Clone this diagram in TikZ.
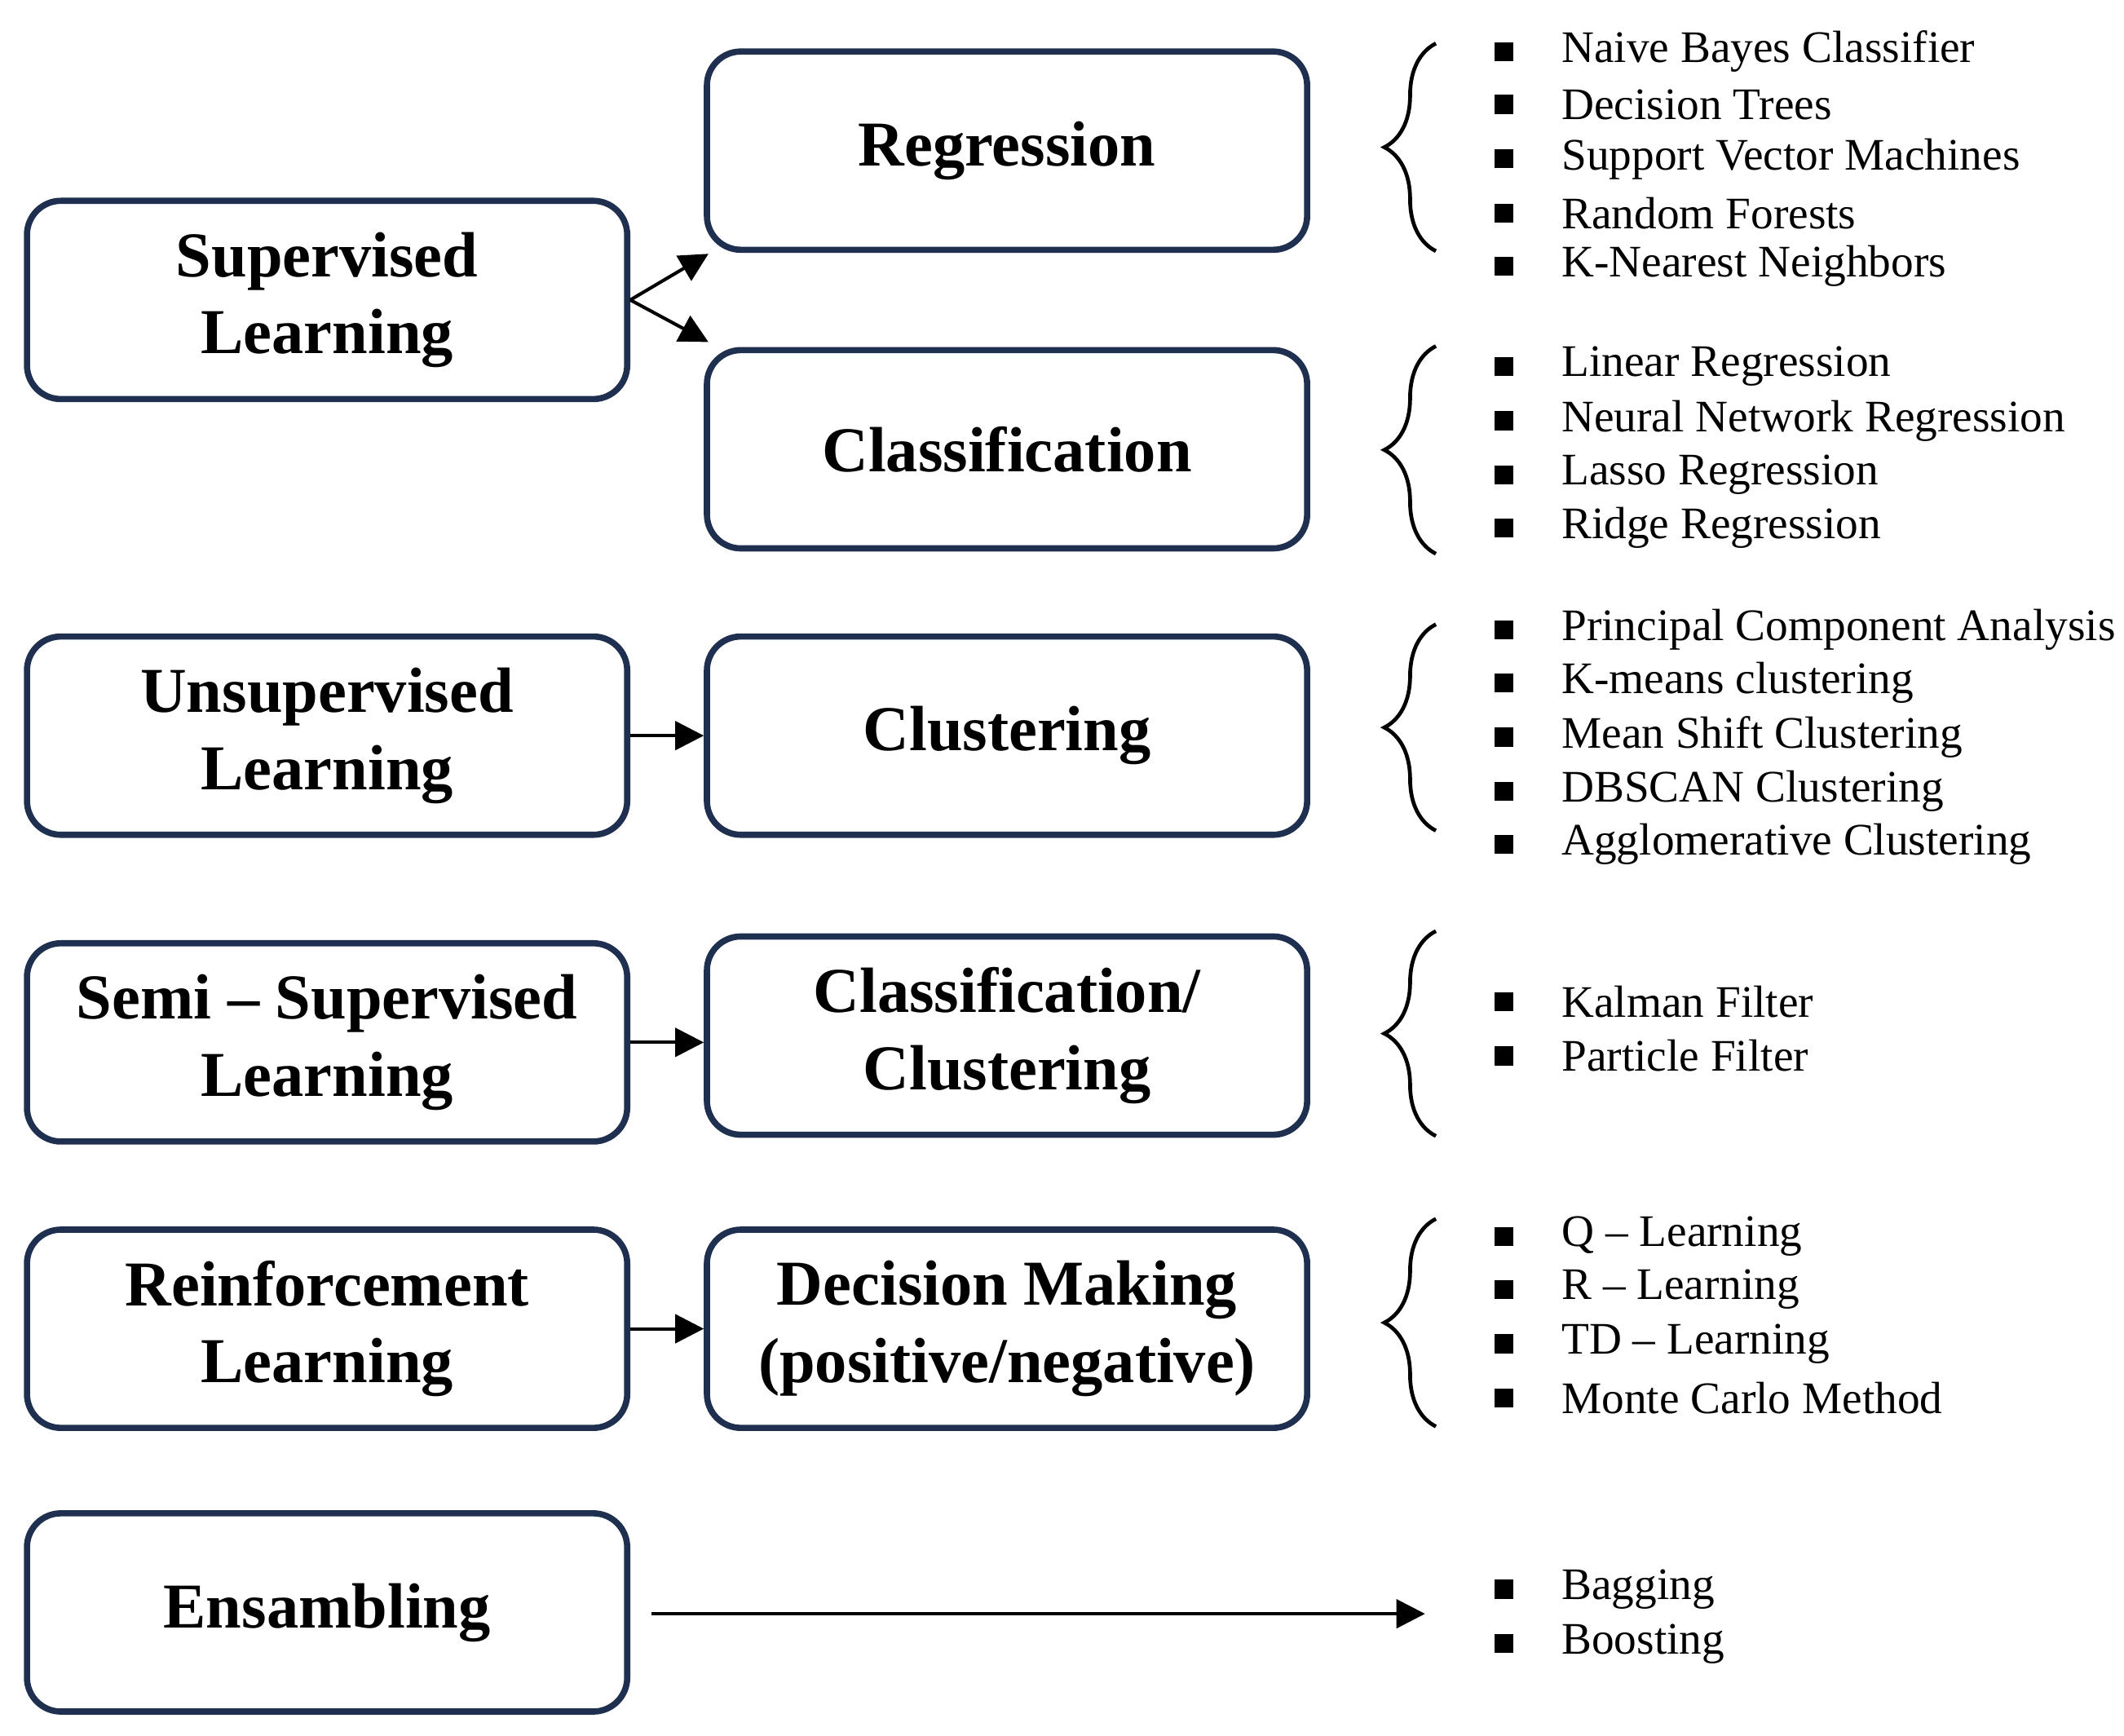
\documentclass[tikz,border=0pt]{standalone}
\usepackage{fontspec}
\setmainfont{Liberation Serif}
\usetikzlibrary{decorations.pathreplacing,arrows.meta}
\definecolor{navy}{HTML}{1F2F4F}
\begin{document}
\begin{tikzpicture}[x=0.01cm,y=-0.01cm,
 box/.style={draw=navy,line width=1.3pt,rounded corners=0.25cm,minimum width=4.42cm,minimum height=1.46cm,align=center,font=\fontsize{13.4}{16.2}\selectfont\bfseries,inner sep=0pt},
 arr/.style={-{Triangle[length=6pt,width=6pt]},line width=0.7pt},
 br/.style={decorate,decoration={brace,amplitude=0.38cm},line width=0.8pt},
 item/.style={anchor=west,font=\fontsize{9.45}{11}\selectfont,inner sep=0pt},
 bul/.style={fill=black,minimum size=4pt,inner sep=0pt}]
\useasboundingbox (0,0) rectangle (1565,1279);
\node[box] (sup) at (241,221) {Supervised\\Learning};
\node[box] (uns) at (241,542) {Unsupervised\\Learning};
\node[box] (semi) at (241,768) {Semi -- Supervised\\Learning};
\node[box] (rei) at (241,979) {Reinforcement\\Learning};
\node[box] (ens) at (241,1188) {Ensambling};
\node[box] (reg) at (742,111) {Regression};
\node[box] (cla) at (742,331) {Classification};
\node[box] (clu) at (742,542) {Clustering};
\node[box] (cc) at (742,763) {Classification/\\Clustering};
\node[box] (dm) at (742,979) {Decision Making\\(positive/negative)};
\coordinate (a1) at (522,187); \coordinate (a2) at (522,252);
\draw[arr] (sup.east) -- (a1);
\draw[arr] (sup.east) -- (a2);
\draw[arr] (uns) -- (clu);
\draw[arr] (semi.east) -- (semi.east -| cc.west);
\draw[arr] (rei) -- (dm);
\coordinate (e1) at (480,1189); \coordinate (e2) at (1050,1189);
\draw[arr] (e1) -- (e2);
\foreach \t/\b in {185/32,408/255,612/460,837/686,1051/898}
  \draw[br] (1058,\t) -- (1058,\b);
\foreach \y/\s in {38/Naive Bayes Classifier,77/Decision Trees,117/Support Vector Machines,157/Random Forests,196/K-Nearest Neighbors,
270/Linear Regression,310/Neural Network Regression,350/Lasso Regression,389/Ridge Regression,
464/Principal Component Analysis,503/K-means clustering,543/Mean Shift Clustering,583/DBSCAN Clustering,622/Agglomerative Clustering,
738/Kalman Filter,778/Particle Filter,
911/Q -- Learning,950/R -- Learning,990/TD -- Learning,1030/Monte Carlo Method,
1171/Bagging,1211/Boosting}
{ \node[bul] at (1108,\y) {}; \node[item] at (1150,\y) {\s}; }
\end{tikzpicture}
\end{document}
